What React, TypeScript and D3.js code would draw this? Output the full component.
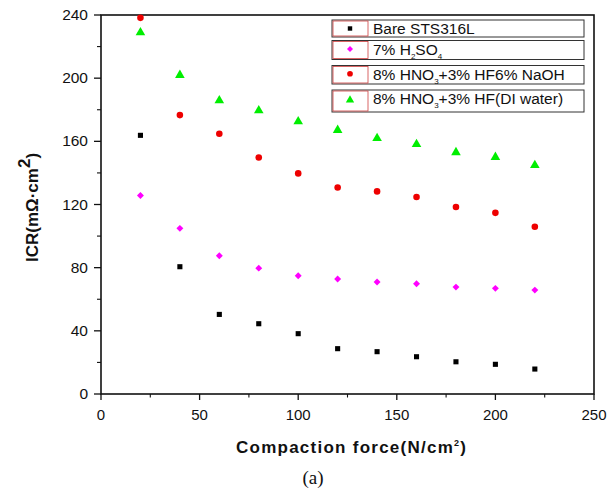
import React from "react";
import * as d3 from "d3";

const forces = [20, 40, 60, 80, 100, 120, 140, 160, 180, 200, 220];
const bare = [163.8, 80.6, 50.4, 44.5, 38.2, 28.7, 26.8, 23.6, 20.4, 18.8, 15.8];
const h2so4 = [125.7, 104.9, 87.5, 79.7, 74.9, 72.8, 70.9, 69.8, 67.7, 66.9, 65.8];
const hno3Naoh = [238.2, 176.6, 164.8, 149.8, 139.7, 130.8, 128.3, 124.7, 118.4, 114.7, 105.9];
const hno3Di = [228.9, 201.9, 185.9, 179.5, 172.6, 167.1, 162.0, 158.2, 153.0, 150.0, 144.9];
const xTicks = [0, 50, 100, 150, 200, 250];
const yTicks = [0, 40, 80, 120, 160, 200, 240];

const W = 616, H = 494;
const x = d3.scaleLinear().domain([0, 250]).range([101, 594]);
const y = d3.scaleLinear().domain([0, 240]).range([394, 15]);

const series = [
  { values: bare, color: "#000000", symbol: d3.symbolSquare, size: 26, rot: 0 },
  { values: h2so4, color: "#ff00ff", symbol: d3.symbolSquare, size: 24, rot: 45 },
  { values: hno3Naoh, color: "#ee0000", symbol: d3.symbolCircle, size: 34, rot: 0 },
  { values: hno3Di, color: "#00ee00", symbol: d3.symbolTriangle, size: 40, rot: 0 },
];

const FONT = "'Liberation Sans', Arial, sans-serif";

export default function App() {
  const xMinor = d3.range(25, 250, 50);
  const yMinor = d3.range(20, 240, 40);
  const legendRows = [
    { y0: 20, y1: 37 },
    { y0: 40.5, y1: 59.5 },
    { y0: 65.5, y1: 84 },
    { y0: 90, y1: 112 },
  ];
  const legendLabels: React.ReactNode[] = [
    <tspan>Bare STS316L</tspan>,
    <>
      <tspan>7% H</tspan>
      <tspan fontSize={8} dy={4}>2</tspan>
      <tspan dy={-4}>SO</tspan>
      <tspan fontSize={8} dy={4}>4</tspan>
    </>,
    <>
      <tspan>8% HNO</tspan>
      <tspan fontSize={8} dy={4}>3</tspan>
      <tspan dy={-4}>+3% HF6% NaOH</tspan>
    </>,
    <>
      <tspan>8% HNO</tspan>
      <tspan fontSize={8} dy={4}>3</tspan>
      <tspan dy={-4}>+3% HF(DI water)</tspan>
    </>,
  ];
  return (
    <svg width={W} height={H} style={{ position: "absolute", left: 0, top: 0, background: "#fff" }} fontFamily={FONT}>
      <rect x={0} y={0} width={W} height={H} fill="#fff" />
      {/* frame */}
      <rect x={x(0)} y={y(240)} width={x(250) - x(0)} height={y(0) - y(240)} fill="none" stroke="#111" strokeWidth={1.6} />
      {/* x ticks */}
      {xTicks.map((t) => (
        <g key={"xt" + t}>
          <line x1={x(t)} x2={x(t)} y1={y(0)} y2={y(0) + 6} stroke="#111" strokeWidth={1.3} />
          <text x={x(t)} y={420} textAnchor="middle" fontSize={15} fill="#111">{t}</text>
        </g>
      ))}
      {xMinor.map((t) => (
        <line key={"xm" + t} x1={x(t)} x2={x(t)} y1={y(0)} y2={y(0) + 3.5} stroke="#111" strokeWidth={1.1} />
      ))}
      {yTicks.map((t) => (
        <g key={"yt" + t}>
          <line x1={x(0) - 7} x2={x(0)} y1={y(t)} y2={y(t)} stroke="#111" strokeWidth={1.3} />
          <text x={88} y={y(t) + 5} textAnchor="end" fontSize={15.5} fill="#111">{t}</text>
        </g>
      ))}
      {yMinor.map((t) => (
        <line key={"ym" + t} x1={x(0) - 4} x2={x(0)} y1={y(t)} y2={y(t)} stroke="#111" strokeWidth={1.1} />
      ))}
      {/* data */}
      {series.map((s, i) => {
        const path = d3.symbol().type(s.symbol).size(s.size)() as string;
        return (
          <g key={"s" + i}>
            {s.values.map((v, j) => (
              <path key={j} d={path} transform={`translate(${x(forces[j])},${y(v)}) rotate(${s.rot})`} fill={s.color} />
            ))}
          </g>
        );
      })}
      {/* legend */}
      {legendRows.map((r, i) => {
        const s = series[i];
        const path = d3.symbol().type(s.symbol).size(s.size * 0.75)() as string;
        return (
          <g key={"lg" + i}>
            <rect x={332} y={r.y0} width={252} height={r.y1 - r.y0} fill="#fff" stroke="#333" strokeWidth={1} />
            <rect x={333} y={r.y0 + 1} width={35} height={r.y1 - r.y0 - 2} fill="#fff" stroke="#d04040" strokeWidth={0.8} />
            <path d={path} transform={`translate(350,${(r.y0 + r.y1) / 2 - (i === 0 ? 0 : 1)}) rotate(${s.rot})`} fill={s.color} />
            <text x={373} y={r.y0 + 14} fontSize={15.5} fill="#111">{legendLabels[i]}</text>
          </g>
        );
      })}
      {/* axis titles */}
      <text transform="translate(38,262) rotate(-90)" fontSize={17} fontWeight="bold" fill="#111">
        <tspan>ICR(mΩ·cm</tspan>
        <tspan dy={-8} fontSize={17}>2</tspan>
        <tspan dy={8}>)</tspan>
      </text>
      <text x={236} y={453} fontSize={17} fontWeight="bold" fill="#111" textLength={230} lengthAdjust="spacing">
        <tspan>Compaction force(N/cm</tspan>
        <tspan dy={-7} fontSize={9}>2</tspan>
        <tspan dy={7}>)</tspan>
      </text>
      <text x={313} y={484} textAnchor="middle" fontSize={19} fontFamily="'Liberation Serif', 'Times New Roman', serif" fill="#111">(a)</text>
    </svg>
  );
}
